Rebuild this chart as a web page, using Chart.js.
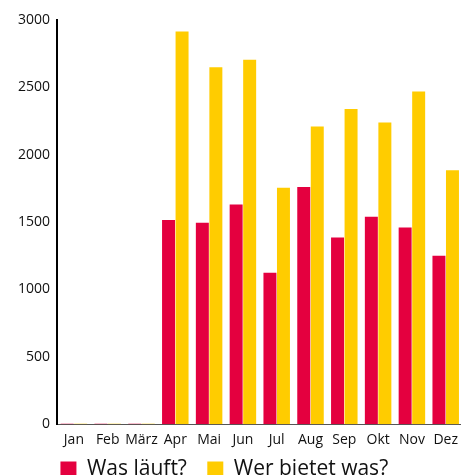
<!DOCTYPE html>
<html>
<head>
<meta charset="utf-8">
<script src="https://cdn.jsdelivr.net/npm/chart.js@4"></script>
<style>
  html, body { margin: 0; padding: 0; background: #fff; overflow: hidden; }
  #wrap { position: absolute; left: 0; top: 0; width: 465px; height: 490px; }
</style>
</head>
<body>
<div id="wrap"><canvas id="chart" width="465" height="490"></canvas></div>
<script>
const months = ['Jan', 'Feb', 'März', 'Apr', 'Mai', 'Jun', 'Jul', 'Aug', 'Sep', 'Okt', 'Nov', 'Dez'];
const wasLaeuft = [4, 4, 4, 1515, 1495, 1630, 1125, 1760, 1385, 1540, 1460, 1250];
const werBietetWas = [4, 4, 4, 2915, 2650, 2705, 1755, 2210, 2340, 2240, 2470, 1885];
const yTicks = [0, 500, 1000, 1500, 2000, 2500, 3000];

const ctx = document.getElementById('chart').getContext('2d');
new Chart(ctx, {
    type: 'bar',
    data: {
        labels: months,
        datasets: [{
            label: 'Was läuft?',
            data: wasLaeuft,
            backgroundColor: '#e4003f',
            categoryPercentage: 0.8,
            barPercentage: 0.96
        }, {
            label: 'Wer bietet was?',
            data: werBietetWas,
            backgroundColor: '#ffcc00',
            categoryPercentage: 0.8,
            barPercentage: 0.96
        }]
    },
    options: {
        responsive: false,
        animation: false,
        layout: { padding: { top: 20, right: 0, left: 0, bottom: 0 } },
        plugins: {
            tooltip: { enabled: false },
            legend: {
                position: 'bottom',
                labels: {
                    boxWidth: 16,
                    boxHeight: 16,
                    padding: 4,
                    color: '#111',
                    font: { family: 'Open Sans', size: 21 },
                    // a little extra room after each label, the legend only has one padding value
                    generateLabels: chart => Chart.defaults.plugins.legend.labels.generateLabels(chart)
                        .map(item => Object.assign(item, { text: item.text + '   ' }))
                }
            }
        },
        scales: {
            x: {
                grid: { display: false, drawTicks: false },
                border: { color: '#555', width: 1 },
                ticks: {
                    color: '#111',
                    padding: 7,
                    maxRotation: 0,
                    autoSkip: false,
                    font: { family: 'Open Sans', size: 14 }
                }
            },
            y: {
                min: 0,
                max: 3000,
                afterBuildTicks: axis => { axis.ticks = yTicks.map(v => ({ value: v })); },
                afterFit: axis => { axis.width = 57; },
                grid: { display: false, drawTicks: false },
                border: { color: '#000', width: 2 },
                ticks: {
                    color: '#111',
                    padding: 7,
                    callback: v => String(v),
                    font: { family: 'Open Sans', size: 14 }
                }
            }
        }
    }
});
</script>
</body>
</html>
